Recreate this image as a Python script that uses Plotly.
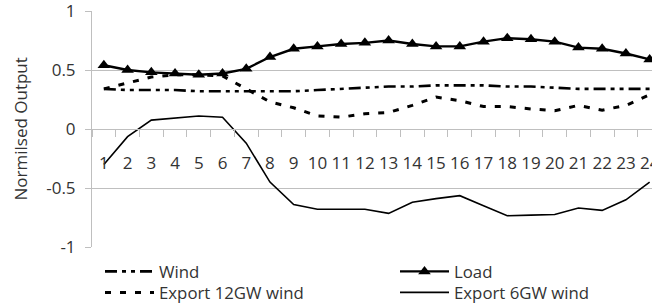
import plotly.graph_objects as go

hours = [str(h) for h in range(1, 25)]

wind = [0.34, 0.33, 0.33, 0.33, 0.32, 0.32, 0.32, 0.32, 0.32, 0.33, 0.34, 0.35,
        0.36, 0.36, 0.37, 0.37, 0.37, 0.36, 0.36, 0.35, 0.34, 0.34, 0.34, 0.34]
load = [0.54, 0.50, 0.48, 0.47, 0.46, 0.47, 0.51, 0.61, 0.68, 0.70, 0.72, 0.73,
        0.75, 0.72, 0.70, 0.70, 0.74, 0.77, 0.76, 0.74, 0.69, 0.68, 0.64, 0.59]
export12 = [0.34, 0.39, 0.44, 0.46, 0.46, 0.45, 0.34, 0.23, 0.18, 0.11, 0.10, 0.13,
            0.14, 0.20, 0.27, 0.24, 0.19, 0.19, 0.17, 0.155, 0.20, 0.16, 0.20, 0.29]
export6 = [-0.30, -0.065, 0.075, 0.09, 0.11, 0.10, -0.12, -0.45, -0.64, -0.68, -0.68, -0.68,
           -0.715, -0.62, -0.59, -0.565, -0.65, -0.735, -0.73, -0.725, -0.67, -0.69, -0.60, -0.45]

y_ticks = [-1, -0.5, 0, 0.5, 1]
y_labels = ["-1", "-0.5", "0", "0.5", "1"]
y_title = "Normilsed Output"

FONT = "Open Sans"
TXT = "#333333"
GRID = "#BFBFBF"
W, H = 652, 306

fig = go.Figure()
fig.add_trace(go.Scatter(x=hours, y=export6, name="Export 6GW wind", mode="lines",
                         line=dict(color="black", width=1.6), legend="legend4"))
fig.add_trace(go.Scatter(x=hours, y=export12, name="Export 12GW wind", mode="lines",
                         line=dict(color="black", width=3, dash="6px,9px"), legend="legend3"))
fig.add_trace(go.Scatter(x=hours, y=wind, name="Wind", mode="lines",
                         line=dict(color="black", width=2.6, dash="12px,5px,4px,5px,4px,5px"),
                         legend="legend"))
fig.add_trace(go.Scatter(x=hours, y=load, name="Load", mode="lines+markers",
                         line=dict(color="black", width=2.4),
                         marker=dict(symbol="triangle-up", size=11, color="black"),
                         legend="legend2"))


def leg(xpx, ytop):
    return dict(orientation="v", xref="container", yref="container",
                xanchor="left", yanchor="top", x=xpx / W, y=1 - ytop / H, itemwidth=49,
                font=dict(size=16.8, color=TXT), bgcolor="rgba(0,0,0,0)",
                borderwidth=0)


fig.update_layout(
    width=W, height=H,
    margin=dict(l=92, r=0, t=11, b=59, autoexpand=False),
    paper_bgcolor="white", plot_bgcolor="white",
    font=dict(family=FONT, color=TXT, size=16),
    showlegend=True,
    legend=leg(100, 254), legend2=leg(395, 254),
    legend3=leg(100, 275), legend4=leg(395, 275),
    xaxis=dict(type="category", range=[-0.5, 23.1], anchor="free", position=0.5,
               showline=True, linecolor=GRID, linewidth=1,
               ticks="outside", tickson="boundaries", ticklen=7, tickcolor=GRID,
               showgrid=False, zeroline=False, tickangle=0, ticklabeloverflow="allow",
               tickfont=dict(size=17, color=TXT), ticklabelstandoff=19),
    yaxis=dict(range=[-1, 1], tickvals=y_ticks, ticktext=y_labels,
               showline=True, linecolor=GRID, linewidth=1,
               ticks="outside", ticklen=6, tickcolor=GRID,
               showgrid=True, gridcolor=GRID, gridwidth=1, zeroline=False,
               ticklabeloverflow="allow",
               tickfont=dict(size=17, color=TXT), ticklabelstandoff=6),
    annotations=[dict(text=y_title, textangle=-90, xref="paper", yref="paper",
                      x=(19.5 - 92) / 560, y=0.5, xanchor="center", yanchor="middle",
                      showarrow=False, font=dict(size=17, color=TXT, family=FONT))],
)

fig.write_html("out.html", config={"displayModeBar": False},
               post_script="document.body.style.margin='0';")
